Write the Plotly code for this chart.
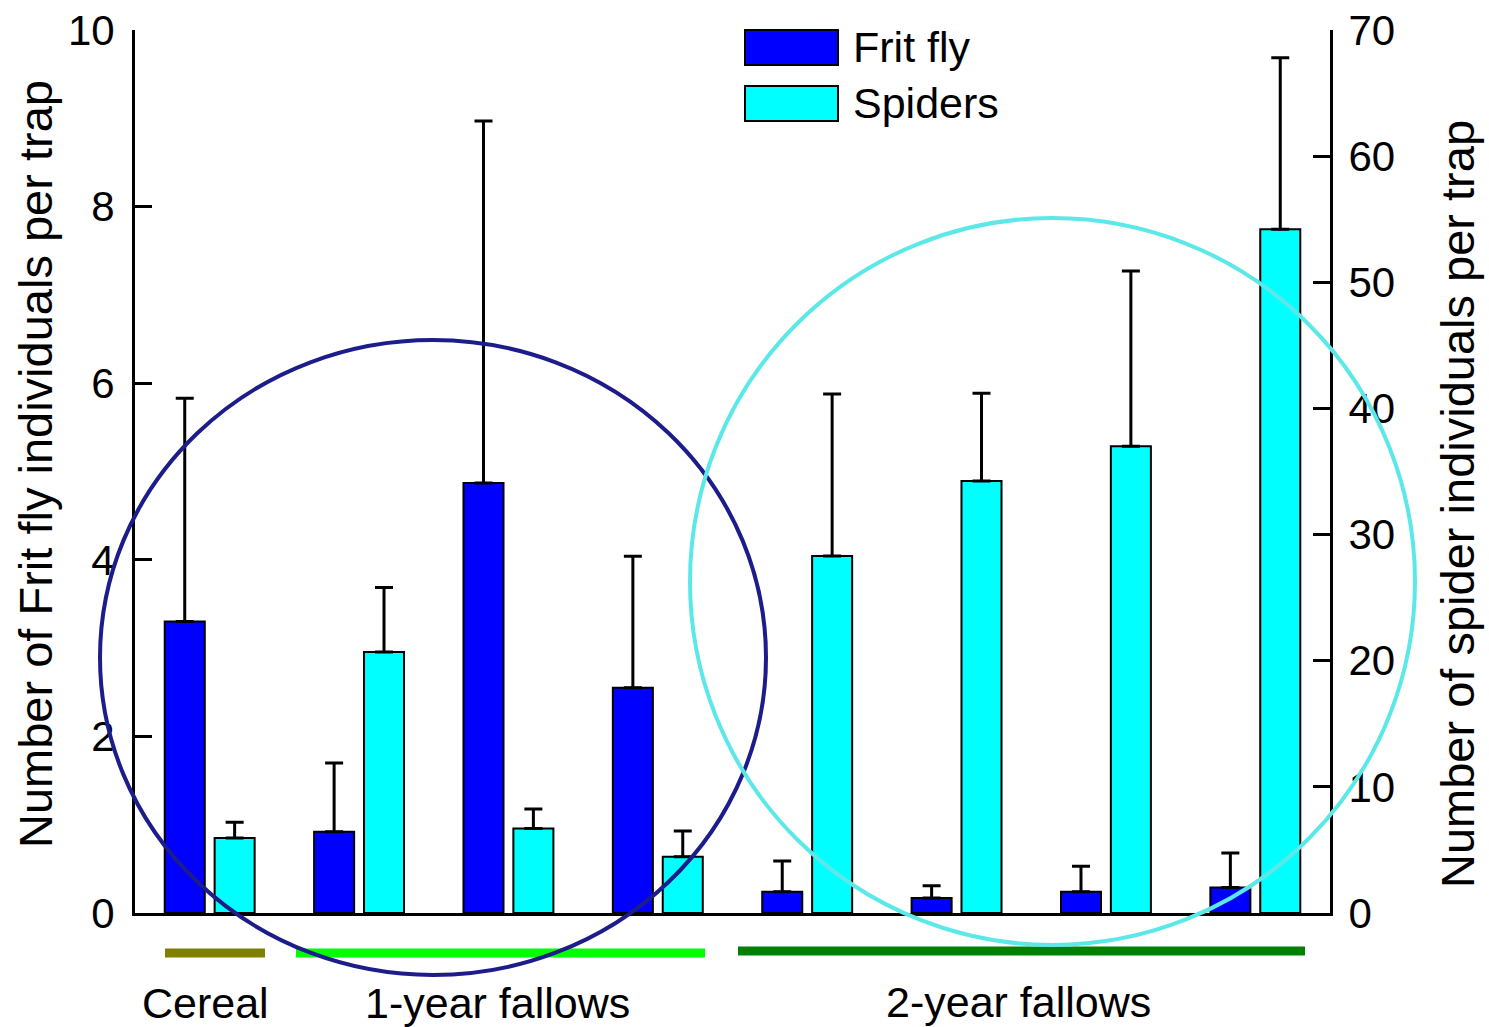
import plotly.graph_objects as go

# ---- data ----
positions = [0, 1, 2, 3, 4, 5, 6, 7]
frit_mean = [3.30, 0.92, 4.87, 2.55, 0.24, 0.17, 0.24, 0.29]
frit_upper = [5.83, 1.70, 8.97, 4.04, 0.59, 0.31, 0.53, 0.68]
spider_mean = [5.95, 20.7, 6.7, 4.45, 28.3, 34.25, 37.0, 54.2]
spider_upper = [7.2, 25.8, 8.25, 6.5, 41.15, 41.2, 50.9, 67.8]
left_ticks = [0, 2, 4, 6, 8, 10]
right_ticks = [0, 10, 20, 30, 40, 50, 60, 70]
group_labels = ["Cereal", "1-year fallows", "2-year fallows"]
series_names = ["Frit fly", "Spiders"]

frit_err = [u - m for u, m in zip(frit_upper, frit_mean)]
spider_err = [u - m for u, m in zip(spider_upper, spider_mean)]

FONT = "Liberation Sans, Arial, sans-serif"
W, H = 1489, 1027
L, R, T, B = 135, 1330, 30, 913
pw, ph = R - L, B - T


def px(x):
    return (x - L) / pw


def py(y):
    return (B - y) / ph


fig = go.Figure()
fig.add_trace(go.Bar(
    x=positions, y=frit_mean, name=series_names[0],
    width=0.268, offset=-0.301,
    marker=dict(color="#0000FF", line=dict(color="black", width=2)),
    error_y=dict(type="data", array=frit_err, arrayminus=[0] * 8, symmetric=False,
                 color="black", thickness=3, width=9),
    yaxis="y", showlegend=False,
))
fig.add_trace(go.Bar(
    x=positions, y=spider_mean, name=series_names[1],
    width=0.268, offset=0.033,
    marker=dict(color="#00FFFF", line=dict(color="black", width=2)),
    error_y=dict(type="data", array=spider_err, arrayminus=[0] * 8, symmetric=False,
                 color="black", thickness=3, width=9),
    yaxis="y2", showlegend=False,
))

shapes = []
# group lines
for (x0, x1, y, c) in [(165, 265, 953, "#808000"), (296, 705, 953, "#00FF00"), (738, 1305, 951, "#008000")]:
    shapes.append(dict(type="line", xref="paper", yref="paper", x0=px(x0), x1=px(x1), y0=py(y), y1=py(y),
                       line=dict(color=c, width=9), layer="above"))
# circles
shapes.append(dict(type="circle", xref="paper", yref="paper", x0=px(100), x1=px(766), y0=py(975), y1=py(340),
                   line=dict(color="#1C1C8A", width=4), layer="above"))
shapes.append(dict(type="circle", xref="paper", yref="paper", x0=px(690), x1=px(1415), y0=py(945), y1=py(218),
                   line=dict(color="#5CE8E8", width=4), layer="above"))
# legend boxes
shapes.append(dict(type="rect", xref="paper", yref="paper", x0=px(745), x1=px(838), y0=py(65), y1=py(30),
                   fillcolor="#0000FF", line=dict(color="black", width=2)))
shapes.append(dict(type="rect", xref="paper", yref="paper", x0=px(745), x1=px(838), y0=py(121), y1=py(86),
                   fillcolor="#00FFFF", line=dict(color="black", width=2)))

annotations = [
    dict(text=series_names[0], xref="paper", yref="paper", x=px(851), y=py(47), xanchor="left", yanchor="middle",
         showarrow=False, font=dict(family=FONT, size=43, color="black")),
    dict(text=series_names[1], xref="paper", yref="paper", x=px(851), y=py(103), xanchor="left", yanchor="middle",
         showarrow=False, font=dict(family=FONT, size=43, color="black")),
    dict(text="Number of Frit fly individuals per trap", xref="paper", yref="paper", x=px(35), y=py(464),
         xanchor="center", yanchor="middle", textangle=-90, showarrow=False,
         font=dict(family=FONT, size=47, color="black")),
    dict(text="Number of spider individuals per trap", xref="paper", yref="paper", x=px(1457), y=py(504),
         xanchor="center", yanchor="middle", textangle=-90, showarrow=False,
         font=dict(family=FONT, size=47, color="black")),
]
for lbl, cx, cy in zip(group_labels, [205, 497, 1018], [1003, 1003, 1002]):
    annotations.append(dict(text=lbl, xref="paper", yref="paper", x=px(cx), y=py(cy), xanchor="center",
                            yanchor="middle", showarrow=False, font=dict(family=FONT, size=43, color="black")))

fig.update_layout(
    width=W, height=H,
    margin=dict(l=L, r=W - R, t=T, b=H - B, autoexpand=False),
    paper_bgcolor="white", plot_bgcolor="white",
    font=dict(family=FONT, color="black"),
    barmode="overlay",
    xaxis=dict(range=[-0.5, 7.5], showgrid=False, zeroline=False, showticklabels=False, ticks="",
               showline=True, linecolor="black", linewidth=3, fixedrange=True),
    yaxis=dict(range=[0, 10], tickvals=left_ticks, ticks="inside", ticklen=17, tickwidth=3, tickcolor="black",
               showline=True, linecolor="black", linewidth=3, showgrid=False, zeroline=False,
               tickfont=dict(family=FONT, size=42, color="black"), ticklabelstandoff=9),
    yaxis2=dict(range=[0, 70], tickvals=right_ticks, overlaying="y", side="right", ticks="inside", ticklen=17,
                tickwidth=3, tickcolor="black", showline=True, linecolor="black", linewidth=3, showgrid=False,
                zeroline=False, tickfont=dict(family=FONT, size=42, color="black"), ticklabelstandoff=7),
    shapes=shapes,
    annotations=annotations,
    showlegend=False,
)

fig.write_html("out.html")
